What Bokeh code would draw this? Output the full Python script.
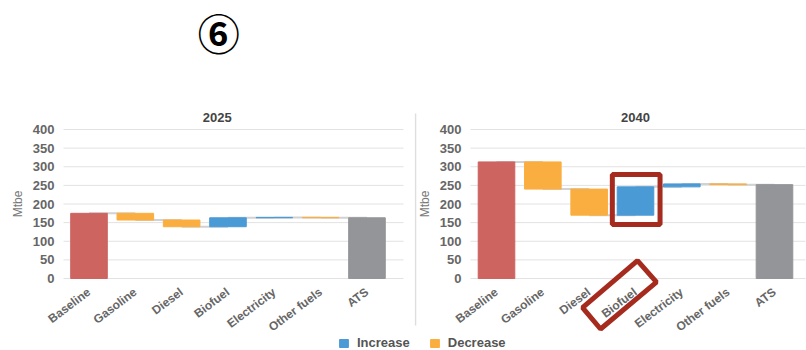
import math
from bokeh.plotting import figure
from bokeh.layouts import row, column
from bokeh.models import (ColumnDataSource, Range1d, FixedTicker, Legend, LegendItem,
                          Label, BoxAnnotation, PolyAnnotation)
from bokeh.embed import file_html
from bokeh.resources import INLINE

# ---- data ----
categories = ["Baseline", "Gasoline", "Diesel", "Biofuel", "Electricity", "Other fuels", "ATS"]
years = ["2025", "2040"]
baseline_2025 = 175
changes_2025 = [-18, -18, 24, 1, -1]      # Gasoline, Diesel, Biofuel, Electricity, Other fuels
baseline_2040 = 313
changes_2040 = [-73, -70, 76, 8, -2]
y_ticks = [0, 50, 100, 150, 200, 250, 300, 350, 400]
legend_labels = ["Increase", "Decrease"]
y_label = "Mtbe"
marker_text = "⑥"

RED = "#CD6460"
ORANGE = "#FBAE40"
BLUE = "#4A9AD6"
GRAY = "#949598"
HILITE = "#A62B1F"
FONT = "Liberation Sans"

# the frame fills each panel's canvas; the value axis is pinned inside it
Y_MIN, Y_MAX = -150.3, 746.3


def make_panel(year, base, changes, width, x0, x1, plot_x0, plot_x1, title_x):
    n = len(categories)
    run = base
    tot = dict(x=[0], top=[base], bottom=[0], color=[RED])
    inc = dict(x=[], top=[], bottom=[])
    dec = dict(x=[], top=[], bottom=[])
    seg = dict(x0=[0], x1=[1], y=[base])
    for i, d in enumerate(changes, start=1):
        new = run + d
        tgt = inc if d >= 0 else dec
        tgt["x"].append(i)
        tgt["bottom"].append(min(run, new))
        tgt["top"].append(max(run, new))
        run = new
        seg["x0"].append(i)
        seg["x1"].append(i + 1)
        seg["y"].append(run)
    tot["x"].append(n - 1)
    tot["top"].append(run)
    tot["bottom"].append(0)
    tot["color"].append(GRAY)

    p = figure(width=width, height=334, output_backend="svg", toolbar_location=None,
               x_range=Range1d(x0, x1), y_range=Range1d(Y_MIN, Y_MAX),
               min_border_left=0, min_border_right=0,
               min_border_top=0, min_border_bottom=0, title=None)

    p.add_layout(Label(x=title_x, y=432, text=year, text_align="center",
                       text_baseline="middle", text_font=FONT, text_font_size="13px",
                       text_font_style="bold", text_color="#444444"))

    # horizontal grid lines over the plotting area only
    grid = dict(x0=[plot_x0] * len(y_ticks), x1=[plot_x1] * len(y_ticks), y=y_ticks)
    p.segment(x0="x0", x1="x1", y0="y", y1="y", source=ColumnDataSource(grid),
              line_color="#e2e2e2", line_width=1)

    p.segment(x0="x0", x1="x1", y0="y", y1="y", source=ColumnDataSource(seg),
              line_color="#d2d2d2", line_width=2)
    bw = 0.79
    p.vbar(x="x", top="top", bottom="bottom", width=bw, source=ColumnDataSource(tot),
           fill_color="color", line_color="color", line_width=1)
    p.vbar(x="x", top="top", bottom="bottom", width=bw, source=ColumnDataSource(inc),
           fill_color=BLUE, line_color=BLUE, line_width=1)
    p.vbar(x="x", top="top", bottom="bottom", width=bw, source=ColumnDataSource(dec),
           fill_color=ORANGE, line_color=ORANGE, line_width=1)

    p.yaxis.fixed_location = plot_x0
    p.yaxis.bounds = (y_ticks[0], y_ticks[-1])
    p.yaxis.ticker = FixedTicker(ticks=y_ticks)
    p.yaxis.axis_label = y_label
    p.yaxis.axis_label_text_font = FONT
    p.yaxis.axis_label_text_font_style = "normal"
    p.yaxis.axis_label_text_font_size = "12px"
    p.yaxis.axis_label_text_color = "#777777"
    p.yaxis.axis_label_standoff = 5
    p.yaxis.major_label_text_font = FONT
    p.yaxis.major_label_text_font_style = "bold"
    p.yaxis.major_label_text_font_size = "13px"
    p.yaxis.major_label_text_color = "#666666"
    p.yaxis.major_label_standoff = 3
    p.yaxis.major_tick_line_color = None
    p.yaxis.minor_tick_line_color = None
    p.yaxis.axis_line_color = None

    p.xaxis.fixed_location = 0
    p.xaxis.ticker = FixedTicker(ticks=list(range(n)))
    p.xaxis.major_label_overrides = {i: c for i, c in enumerate(categories)}
    p.xaxis.major_label_orientation = math.radians(37)
    p.xaxis.major_label_text_font = FONT
    p.xaxis.major_label_text_font_style = "bold"
    p.xaxis.major_label_text_font_size = "12px"
    p.xaxis.major_label_text_color = "#666666"
    p.xaxis.major_label_standoff = 6
    p.xaxis.major_tick_line_color = None
    p.xaxis.minor_tick_line_color = None
    p.xaxis.axis_line_color = None

    p.xgrid.visible = False
    p.ygrid.visible = False
    p.outline_line_color = None
    return p


p1 = make_panel(years[0], baseline_2025, changes_2025, 414, -1.910, 7.026, -0.55, 6.79, 2.77)
p2 = make_panel(years[1], baseline_2040, changes_2040, 392, -1.770, 6.691, -0.561, 6.67, 3.0)

# circled number above the left panel
p1.add_layout(Label(x=2.80, y=662, text=marker_text, text_align="center", text_baseline="middle",
                    text_font="Noto Sans CJK JP", text_font_size="42px",
                    text_font_style="bold", text_color="#000000"))

# thin divider between the panels (left edge of the 2040 panel)
p2.segment(x0=[-1.748], x1=[-1.748], y0=[443], y1=[-126], line_color="#dedede", line_width=1.5)

# highlight boxes in the 2040 panel
p2.add_layout(BoxAnnotation(left=2.5, right=3.53, bottom=145, top=279, fill_alpha=0,
                            line_color=HILITE, line_alpha=1, line_width=5))
p2.add_layout(PolyAnnotation(xs=[1.857, 3.043, 3.453, 2.246], ys=[-78, 48, -9.5, -135.5],
                             fill_alpha=0, line_color=HILITE, line_alpha=1, line_width=5))

# legend strip under both panels
strip = figure(width=806, height=16, output_backend="svg", toolbar_location=None,
               x_axis_type=None, y_axis_type=None, x_range=Range1d(0, 1), y_range=Range1d(0, 1),
               min_border_left=0, min_border_right=0, min_border_top=0, min_border_bottom=0)
strip.outline_line_color = None
strip.grid.visible = False
# swatch renderers kept out of view; only their legend glyphs show
r_inc = strip.vbar(x=[-5], top=[0], width=0.1, fill_color=BLUE, line_color=BLUE)
r_dec = strip.vbar(x=[-5], top=[0], width=0.1, fill_color=ORANGE, line_color=ORANGE)
lg = Legend(items=[LegendItem(label=legend_labels[0], renderers=[r_inc]),
                   LegendItem(label=legend_labels[1], renderers=[r_dec])],
            location=(338, 0), orientation="horizontal", padding=0, margin=0, spacing=19,
            border_line_color=None, background_fill_alpha=0,
            glyph_width=11, glyph_height=10, label_standoff=8,
            label_text_font=FONT, label_text_font_size="13px",
            label_text_font_style="bold", label_text_color="#555555")
strip.add_layout(lg)

layout = column(row(p1, p2), strip)
open("out.html", "w").write(file_html(layout, INLINE))
